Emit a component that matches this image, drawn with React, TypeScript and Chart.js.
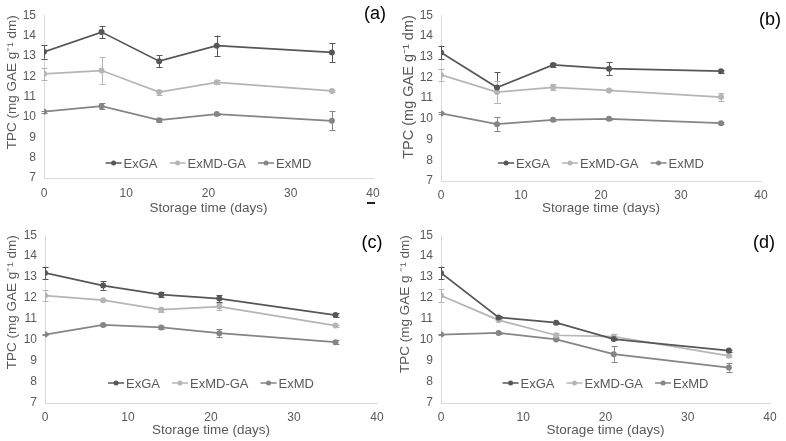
import React, { useEffect, useRef } from "react";
import { Chart, registerables } from "chart.js";
Chart.register(...registerables);

const DAYS = [0, 7, 14, 21, 35];
const SERIES_NAMES = ["ExGA", "ExMD-GA", "ExMD"];
const SERIES_COLORS = ["#575757", "#b5b5b5", "#858585"];
const X_MIN = 0, X_MAX = 40, X_STEP = 10;
const Y_MIN = 7, Y_MAX = 15, Y_STEP = 1;
const X_TITLE = "Storage time (days)";

// Panel (a)
const A_EXGA = [13.2, 14.17, 12.74, 13.5, 13.17];
const A_EXGA_ERR = [0.33, 0.3, 0.3, 0.5, 0.47];
const A_EXMDGA = [12.12, 12.28, 11.22, 11.7, 11.28];
const A_EXMDGA_ERR = [0.3, 0.65, 0.12, 0.1, 0.05];
const A_EXMD = [10.26, 10.53, 9.84, 10.14, 9.81];
const A_EXMD_ERR = [0.05, 0.15, 0.1, 0.05, 0.47];

// Panel (b)
const B_EXGA = [13.2, 11.51, 12.6, 12.42, 12.3];
const B_EXGA_ERR = [0.33, 0.75, 0.1, 0.3, 0.07];
const B_EXMDGA = [12.12, 11.29, 11.52, 11.37, 11.05];
const B_EXMDGA_ERR = [0.3, 0.55, 0.15, 0.05, 0.2];
const B_EXMD = [10.26, 9.74, 9.95, 10.0, 9.79];
const B_EXMD_ERR = [0.05, 0.35, 0.05, 0.05, 0.05];

// Panel (c)
const C_EXGA = [13.2, 12.6, 12.17, 11.98, 11.19];
const C_EXGA_ERR = [0.3, 0.2, 0.1, 0.15, 0.1];
const C_EXMDGA = [12.12, 11.9, 11.45, 11.6, 10.69];
const C_EXMDGA_ERR = [0.25, 0.05, 0.1, 0.15, 0.05];
const C_EXMD = [10.26, 10.72, 10.6, 10.33, 9.9];
const C_EXMD_ERR = [0.03, 0.05, 0.05, 0.2, 0.08];

// Panel (d)
const D_EXGA = [13.2, 11.08, 10.83, 10.05, 9.5];
const D_EXGA_ERR = [0.3, 0.05, 0.05, 0.05, 0.05];
const D_EXMDGA = [12.12, 10.95, 10.23, 10.17, 9.25];
const D_EXMDGA_ERR = [0.3, 0.05, 0.1, 0.1, 0.05];
const D_EXMD = [10.26, 10.34, 10.03, 9.33, 8.69];
const D_EXMD_ERR = [0.03, 0.03, 0.05, 0.37, 0.2];

const FONT = "'Liberation Sans', Arial, sans-serif";

type Layout = {
  left: number; top: number; w: number; h: number;
  yW: number; xH: number; padTop: number; padRight: number;
  yTitlePad: number; xTitlePad: number; xTickPad: number;
  label: string; labelX: number; labelY: number; legendOff: number;
  yTitle: string; yTitleSize: number; dash?: boolean;
};

const PANELS: { lay: Layout; vals: number[][]; errs: number[][] }[] = [
  {
    lay: { left: 0, top: 0, w: 393, h: 220, yW: 44, xH: 42, padTop: 10, padRight: 20,
      yTitlePad: 4, xTitlePad: 4, xTickPad: 8, label: "(a)", labelX: 375, labelY: 14, legendOff: 15,
      yTitle: "TPC (mg GAE g\u207B\u00B9 dm)", yTitleSize: 13.5, dash: true },
    vals: [A_EXGA, A_EXMDGA, A_EXMD], errs: [A_EXGA_ERR, A_EXMDGA_ERR, A_EXMD_ERR],
  },
  {
    lay: { left: 393, top: 0, w: 393, h: 220, yW: 48, xH: 39, padTop: 10, padRight: 25,
      yTitlePad: 7, xTitlePad: 4, xTickPad: 7, label: "(b)", labelX: 377, labelY: 20, legendOff: 18,
      yTitle: "TPC (mg GAE g\u207B\u00B9 dm)", yTitleSize: 14.5 },
    vals: [B_EXGA, B_EXMDGA, B_EXMD], errs: [B_EXGA_ERR, B_EXMDGA_ERR, B_EXMD_ERR],
  },
  {
    lay: { left: 0, top: 220, w: 393, h: 221, yW: 45, xH: 38, padTop: 12, padRight: 16,
      yTitlePad: 4, xTitlePad: 3, xTickPad: 7, label: "(c)", labelX: 372, labelY: 23, legendOff: 20,
      yTitle: "TPC (mg GAE g\u207B\u00B9 dm)", yTitleSize: 13.5 },
    vals: [C_EXGA, C_EXMDGA, C_EXMD], errs: [C_EXGA_ERR, C_EXMDGA_ERR, C_EXMD_ERR],
  },
  {
    lay: { left: 393, top: 220, w: 393, h: 221, yW: 48, xH: 38, padTop: 12, padRight: 16,
      yTitlePad: 4, xTitlePad: 3, xTickPad: 7, label: "(d)", labelX: 371, labelY: 23, legendOff: 20,
      yTitle: "TPC (mg GAE g \u207B\u00B9 dm)", yTitleSize: 13.5 },
    vals: [D_EXGA, D_EXMDGA, D_EXMD], errs: [D_EXGA_ERR, D_EXMDGA_ERR, D_EXMD_ERR],
  },
];

function Panel({ p }: { p: typeof PANELS[number] }) {
  const ref = useRef<HTMLCanvasElement>(null);
  useEffect(() => {
    const lay = p.lay;
    const errPlugin = {
      id: "errbars",
      beforeDatasetsDraw(chart: any) {
        const ctx = chart.ctx;
        const ys = chart.scales.y;
        const xs = chart.scales.x;
        ctx.save();
        p.vals.forEach((vals, si) => {
          ctx.strokeStyle = SERIES_COLORS[si];
          ctx.lineWidth = 1;
          vals.forEach((v, i) => {
            const e = p.errs[si][i];
            const x = Math.round(xs.getPixelForValue(DAYS[i])) + 0.5;
            const y1 = ys.getPixelForValue(v + e);
            const y2 = ys.getPixelForValue(v - e);
            ctx.beginPath();
            ctx.moveTo(x, y1); ctx.lineTo(x, y2);
            ctx.moveTo(x - 3, Math.round(y1) + 0.5); ctx.lineTo(x + 3, Math.round(y1) + 0.5);
            ctx.moveTo(x - 3, Math.round(y2) + 0.5); ctx.lineTo(x + 3, Math.round(y2) + 0.5);
            ctx.stroke();
          });
        });
        ctx.restore();
      },
    };
    const decoPlugin = {
      id: "deco",
      afterDraw(chart: any) {
        const ctx = chart.ctx;
        const ca = chart.chartArea;
        ctx.save();
        // panel label
        ctx.fillStyle = "#000";
        ctx.font = `18px ${FONT}`;
        ctx.textAlign = "center";
        ctx.textBaseline = "middle";
        ctx.fillText(lay.label, lay.labelX, lay.labelY);
        // legend
        ctx.font = `13px ${FONT}`;
        ctx.textAlign = "left";
        const lineLen = 16, gap = 2, itemGap = 12;
        const widths = SERIES_NAMES.map((n) => lineLen + gap + ctx.measureText(n).width);
        const total = widths.reduce((a, b) => a + b, 0) + itemGap * (SERIES_NAMES.length - 1);
        let x = (ca.left + ca.right) / 2 - total / 2;
        const y = ca.bottom - lay.legendOff;
        SERIES_NAMES.forEach((n, i) => {
          ctx.strokeStyle = SERIES_COLORS[i];
          ctx.fillStyle = SERIES_COLORS[i];
          ctx.lineWidth = 1.5;
          ctx.beginPath();
          ctx.moveTo(x, y); ctx.lineTo(x + lineLen, y);
          ctx.stroke();
          ctx.beginPath();
          ctx.arc(x + lineLen / 2, y, 2.5, 0, Math.PI * 2);
          ctx.fill();
          ctx.fillStyle = "#595959";
          ctx.fillText(n, x + lineLen + gap, y + 1);
          x += widths[i] + itemGap;
        });
        if (lay.dash) {
          ctx.strokeStyle = "#222";
          ctx.lineWidth = 2;
          ctx.beginPath();
          ctx.moveTo(367, 203); ctx.lineTo(375, 203);
          ctx.stroke();
        }
        ctx.restore();
      },
    };
    const chart = new Chart(ref.current as HTMLCanvasElement, {
      type: "line",
      data: {
        datasets: p.vals.map((vals, si) => ({
          label: SERIES_NAMES[si],
          data: vals.map((v, i) => ({ x: DAYS[i], y: v })),
          borderColor: SERIES_COLORS[si],
          backgroundColor: SERIES_COLORS[si],
          borderWidth: 1.75,
          pointRadius: 3,
          pointBorderWidth: 0,
          pointBackgroundColor: SERIES_COLORS[si],
          tension: 0,
        })),
      },
      options: {
        animation: false,
        responsive: false,
        devicePixelRatio: 1,
        layout: { padding: { top: lay.padTop, right: lay.padRight, left: 0, bottom: 0 } },
        plugins: { legend: { display: false }, tooltip: { enabled: false } },
        scales: {
          x: {
            type: "linear",
            min: X_MIN, max: X_MAX,
            afterFit: (s: any) => { s.height = lay.xH; },
            ticks: { stepSize: X_STEP, color: "#595959", font: { family: FONT, size: 12 }, padding: lay.xTickPad },
            grid: { display: false, drawTicks: false },
            border: { display: true, color: "#d9d9d9", width: 1 },
            title: { display: true, text: X_TITLE, color: "#595959", font: { family: FONT, size: 13.5 }, padding: { top: 0, bottom: lay.xTitlePad } },
          },
          y: {
            type: "linear",
            min: Y_MIN, max: Y_MAX,
            afterFit: (s: any) => { s.width = lay.yW; },
            ticks: { stepSize: Y_STEP, color: "#595959", font: { family: FONT, size: 12 }, padding: 8 },
            grid: { display: false, drawTicks: false },
            border: { display: true, color: "#d9d9d9", width: 1 },
            title: { display: true, align: "end", text: lay.yTitle, color: "#595959", font: { family: FONT, size: lay.yTitleSize }, padding: { top: lay.yTitlePad, bottom: 0 } },
          },
        },
      },
      plugins: [errPlugin, decoPlugin],
    });
    return () => chart.destroy();
  }, [p]);
  const lay = p.lay;
  return (
    <canvas
      ref={ref}
      width={lay.w}
      height={lay.h}
      style={{ position: "absolute", left: lay.left, top: lay.top, width: lay.w, height: lay.h }}
    />
  );
}

export default function App() {
  return (
    <div style={{ position: "fixed", left: 0, top: 0, width: 786, height: 441, background: "#fff" }}>
      {PANELS.map((p, i) => (
        <Panel key={i} p={p} />
      ))}
    </div>
  );
}
